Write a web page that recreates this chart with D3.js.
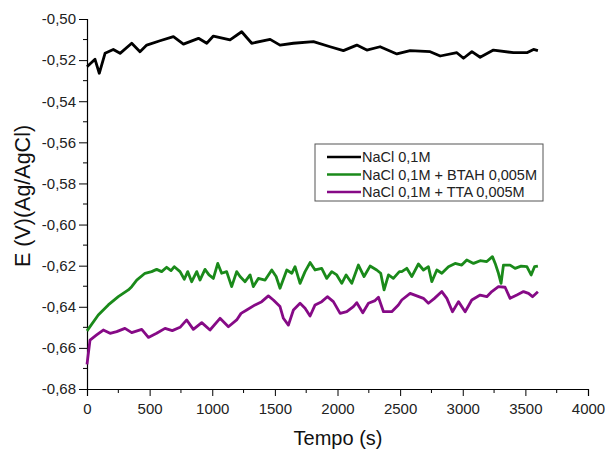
<!DOCTYPE html>
<html>
<head>
<meta charset="utf-8">
<script src="https://cdn.jsdelivr.net/npm/d3@7"></script>
<style>
  body { margin: 0; background: #fff; }
  svg { font-family: "Liberation Sans", Arial, sans-serif; }
</style>
</head>
<body>
<div id="chart"></div>
<script>
/* Data (time in s, potential in V vs Ag/AgCl) */
const seriesNames = ['NaCl 0,1M', 'NaCl 0,1M + BTAH 0,005M', 'NaCl 0,1M + TTA 0,005M'];
const seriesColors = ['#000000', '#1a8a1a', '#860a86'];

const naclTime = [0, 64, 98, 144, 210, 264, 357, 423, 477, 583, 690, 770, 890, 956, 1009, 1142, 1235, 1315, 1462, 1541, 1648, 1808, 1941, 2047, 2154, 2234, 2340, 2474, 2580, 2740, 2820, 2953, 3006, 3073, 3139, 3245, 3405, 3512, 3565, 3600];
const naclE = [-0.5232, -0.5196, -0.5264, -0.5167, -0.5148, -0.5167, -0.5118, -0.5159, -0.5127, -0.5106, -0.5086, -0.5122, -0.5094, -0.5118, -0.5083, -0.5102, -0.5062, -0.5118, -0.5099, -0.5127, -0.5118, -0.5110, -0.5135, -0.5154, -0.5127, -0.5151, -0.5135, -0.5170, -0.5154, -0.5159, -0.5180, -0.5164, -0.5191, -0.5159, -0.5186, -0.5151, -0.5164, -0.5164, -0.5148, -0.5154];

const btahTime = [0, 90, 170, 250, 330, 357, 397, 463, 516, 556, 596, 636, 671, 697, 743, 777, 804, 836, 876, 902, 942, 974, 1009, 1044, 1075, 1115, 1155, 1195, 1222, 1262, 1302, 1328, 1368, 1422, 1475, 1510, 1541, 1595, 1635, 1661, 1701, 1741, 1781, 1821, 1874, 1914, 1954, 1994, 2034, 2069, 2114, 2167, 2212, 2260, 2313, 2345, 2372, 2407, 2446, 2494, 2513, 2553, 2593, 2646, 2686, 2726, 2753, 2793, 2833, 2886, 2939, 2992, 3032, 3086, 3139, 3192, 3237, 3259, 3285, 3306, 3325, 3378, 3418, 3466, 3512, 3546, 3573, 3600];
const btahE = [-0.6517, -0.6440, -0.6391, -0.6351, -0.6318, -0.6302, -0.6270, -0.6237, -0.6229, -0.6218, -0.6229, -0.6208, -0.6224, -0.6205, -0.6229, -0.6266, -0.6229, -0.6278, -0.6229, -0.6270, -0.6218, -0.6245, -0.6262, -0.6189, -0.6237, -0.6229, -0.6302, -0.6229, -0.6253, -0.6278, -0.6245, -0.6302, -0.6262, -0.6270, -0.6221, -0.6253, -0.6310, -0.6221, -0.6237, -0.6205, -0.6286, -0.6229, -0.6185, -0.6221, -0.6213, -0.6262, -0.6229, -0.6245, -0.6286, -0.6245, -0.6286, -0.6197, -0.6253, -0.6202, -0.6221, -0.6237, -0.6318, -0.6245, -0.6262, -0.6229, -0.6229, -0.6213, -0.6253, -0.6192, -0.6221, -0.6205, -0.6278, -0.6221, -0.6237, -0.6205, -0.6189, -0.6197, -0.6172, -0.6189, -0.6176, -0.6180, -0.6156, -0.6189, -0.6237, -0.6286, -0.6197, -0.6197, -0.6213, -0.6202, -0.6205, -0.6245, -0.6205, -0.6202];

const ttaTime = [0, 24, 77, 130, 184, 237, 303, 357, 437, 490, 556, 623, 681, 743, 796, 849, 916, 982, 1062, 1129, 1195, 1230, 1275, 1342, 1395, 1448, 1488, 1541, 1568, 1608, 1648, 1701, 1741, 1781, 1821, 1874, 1919, 1967, 2021, 2074, 2127, 2154, 2202, 2247, 2300, 2327, 2367, 2433, 2486, 2513, 2580, 2633, 2686, 2726, 2774, 2833, 2873, 2918, 2966, 3019, 3072, 3139, 3192, 3232, 3285, 3338, 3378, 3432, 3485, 3525, 3557, 3600];
const ttaE = [-0.6680, -0.6562, -0.6537, -0.6513, -0.6529, -0.6521, -0.6505, -0.6526, -0.6510, -0.6549, -0.6529, -0.6505, -0.6516, -0.6500, -0.6464, -0.6510, -0.6477, -0.6513, -0.6456, -0.6497, -0.6464, -0.6432, -0.6416, -0.6391, -0.6375, -0.6347, -0.6367, -0.6399, -0.6456, -0.6489, -0.6416, -0.6383, -0.6407, -0.6445, -0.6391, -0.6375, -0.6351, -0.6375, -0.6432, -0.6424, -0.6399, -0.6380, -0.6429, -0.6383, -0.6370, -0.6354, -0.6424, -0.6424, -0.6391, -0.6367, -0.6335, -0.6347, -0.6359, -0.6383, -0.6359, -0.6326, -0.6359, -0.6424, -0.6375, -0.6424, -0.6367, -0.6343, -0.6351, -0.6326, -0.6302, -0.6305, -0.6359, -0.6343, -0.6326, -0.6335, -0.6351, -0.6327];

const xTicks = [0, 500, 1000, 1500, 2000, 2500, 3000, 3500, 4000];
const xMinorTicks = [250, 750, 1250, 1750, 2250, 2750, 3250, 3750];
const yTicks = [-0.68, -0.66, -0.64, -0.62, -0.60, -0.58, -0.56, -0.54, -0.52, -0.50];
const yMinorTicks = [-0.67, -0.65, -0.63, -0.61, -0.59, -0.57, -0.55, -0.53, -0.51];

const seriesTimes = [naclTime, btahTime, ttaTime];
const seriesValues = [naclE, btahE, ttaE];

drawChart();

function drawChart () {
  const width = 605;
  const height = 450;
  const margin = { top: 19, right: 17, bottom: 61, left: 87 };
  const innerWidth = width - margin.left - margin.right;
  const innerHeight = height - margin.top - margin.bottom;

  const svg = d3.select('#chart')
    .append('svg')
    .attr('width', width)
    .attr('height', height);

  const g = svg.append('g').attr('transform', `translate(${margin.left},${margin.top})`);

  const xScale = d3.scaleLinear().domain([0, 4000]).range([0, innerWidth]);
  const yScale = d3.scaleLinear().domain([-0.68, -0.50]).range([innerHeight, 0]);
  const fmt = d => d3.format('.2f')(d).replace('.', ',').replace('−', '-');

  const xAxis = g.append('g')
    .attr('transform', `translate(0,${innerHeight})`)
    .call(d3.axisBottom(xScale).tickValues(xTicks).tickSize(7).tickPadding(7).tickFormat(d3.format('d')));
  xAxis.append('g').selectAll('line')
    .data(xMinorTicks).enter().append('line')
    .attr('x1', d => xScale(d)).attr('x2', d => xScale(d))
    .attr('y1', 0).attr('y2', 4)
    .attr('stroke', '#000');

  const yAxis = g.append('g')
    .call(d3.axisLeft(yScale).tickValues(yTicks).tickSize(8).tickPadding(3).tickFormat(fmt));
  yAxis.append('g').selectAll('line')
    .data(yMinorTicks).enter().append('line')
    .attr('y1', d => yScale(d)).attr('y2', d => yScale(d))
    .attr('x1', 0).attr('x2', -4)
    .attr('stroke', '#000');

  [xAxis, yAxis].forEach(ax => {
    ax.selectAll('path.domain').attr('stroke', '#000').attr('stroke-width', 1.2);
    ax.selectAll('.tick line').attr('stroke', '#000');
    ax.selectAll('.tick text')
      .style('font-family', '"Liberation Sans", Arial, sans-serif')
      .style('font-size', '15px')
      .attr('fill', '#222');
  });

  const line = d3.line()
    .x(d => xScale(d[0]))
    .y(d => yScale(d[1]));

  seriesNames.forEach((name, i) => {
    const pts = seriesTimes[i].map((t, j) => [t, seriesValues[i][j]]);
    g.append('path')
      .datum(pts)
      .attr('fill', 'none')
      .attr('stroke', seriesColors[i])
      .attr('stroke-width', 2.8)
      .attr('stroke-linejoin', 'round')
      .attr('d', line);
  });

  // axis titles
  svg.append('text')
    .attr('x', 338)
    .attr('y', 445)
    .attr('text-anchor', 'middle')
    .style('font-size', '20px')
    .attr('fill', '#111')
    .text('Tempo (s)');

  svg.append('text')
    .attr('transform', 'translate(30,196) rotate(-90)')
    .attr('text-anchor', 'middle')
    .style('font-size', '21.5px')
    .attr('fill', '#111')
    .text('E (V)(Ag/AgCl)');

  // legend
  const legend = svg.append('g').attr('transform', 'translate(315,144)');
  legend.append('rect')
    .attr('width', 228).attr('height', 57)
    .attr('fill', '#fff').attr('stroke', '#555').attr('stroke-width', 1);
  seriesNames.forEach((name, i) => {
    const yy = 13 + i * 17.5;
    legend.append('line')
      .attr('x1', 12).attr('x2', 46)
      .attr('y1', yy).attr('y2', yy)
      .attr('stroke', seriesColors[i]).attr('stroke-width', 2.6);
    legend.append('text')
      .attr('x', 47).attr('y', yy + 5)
      .style('font-size', '14.5px')
      .attr('fill', '#222')
      .text(name);
  });
}
</script>
</body>
</html>
